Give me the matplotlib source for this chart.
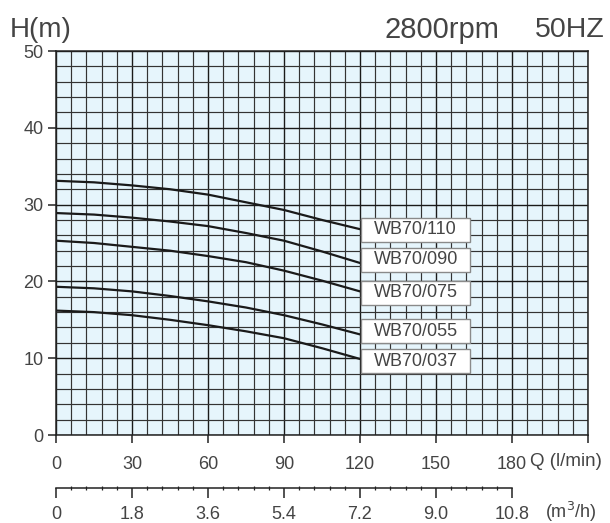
import matplotlib
matplotlib.use("Agg")
import matplotlib.pyplot as plt
from matplotlib.patches import Rectangle
from matplotlib.ticker import MultipleLocator, FixedLocator

plt.rcParams["font.family"] = ["Liberation Sans", "DejaVu Sans"]

# Données
q_lmin = [0, 15, 30, 45, 60, 75, 90, 105, 120]
models = ["WB70/110", "WB70/090", "WB70/075", "WB70/055", "WB70/037"]
h_110 = [33.1, 32.9, 32.5, 32.0, 31.3, 30.3, 29.3, 28.0, 26.8]
h_090 = [28.9, 28.7, 28.3, 27.8, 27.2, 26.3, 25.3, 23.9, 22.4]
h_075 = [25.3, 25.0, 24.5, 24.0, 23.3, 22.5, 21.4, 20.1, 18.7]
h_055 = [19.3, 19.1, 18.7, 18.1, 17.4, 16.6, 15.6, 14.4, 13.1]
h_037 = [16.2, 16.0, 15.6, 15.0, 14.3, 13.5, 12.6, 11.3, 9.9]
heads = [h_110, h_090, h_075, h_055, h_037]
label_y = [26.7, 22.8, 18.5, 13.5, 9.6]

q_ticks = [0, 30, 60, 90, 120, 150, 180]
m3h_ticks = [0, 1.8, 3.6, 5.4, 7.2, 9.0, 10.8]
m3h_labels = ["0", "1.8", "3.6", "5.4", "7.2", "9.0", "10.8"]
h_ticks = [0, 10, 20, 30, 40, 50]

TXT = "#444444"
INK = "#222222"

fig = plt.figure(figsize=(6.10, 5.23), dpi=100)
ax = fig.add_axes([56 / 610, 1 - 435 / 523, 532 / 610, 384 / 523])
ax.set_facecolor("#e6f5fc")
ax.set_xlim(0, 210)
ax.set_ylim(0, 50)

# Grille
ax.xaxis.set_minor_locator(MultipleLocator(6))
ax.yaxis.set_minor_locator(MultipleLocator(2))
ax.grid(which="minor", color="#333333", lw=0.85)
ax.grid(which="major", color="#1a1a1a", lw=1.0)
ax.set_axisbelow(True)
ax.tick_params(which="minor", length=0)

for s in ax.spines.values():
    s.set_color(INK)
    s.set_linewidth(1.1)

ax.xaxis.set_major_locator(FixedLocator(q_ticks + [210]))
ax.set_xticklabels([str(t) for t in q_ticks] + [""])
ax.yaxis.set_major_locator(FixedLocator(h_ticks))
ax.tick_params(which="major", direction="out", length=6, width=1.1,
               color=INK, labelsize=13, labelcolor=TXT)
ax.tick_params(axis="x", pad=9)
ax.tick_params(axis="y", pad=3)

# Courbes
for name, h, ly in zip(models, heads, label_y):
    ax.plot(q_lmin, h, color="#1a1a1a", lw=1.6, solid_capstyle="round")
    ax.add_patch(Rectangle((120.5, ly - 1.55), 43, 3.1, facecolor="white",
                           edgecolor="#8a8a8a", lw=1.0, zorder=5))
    ax.text(142, ly, name, ha="center", va="center", fontsize=13,
            color=TXT, zorder=6)

# Axe secondaire m3/h
ax2 = fig.add_axes([56 / 610, 1 - 488 / 523, 532 / 610, 0.0001])
ax2.set_xlim(0, 12.6)
ax2.patch.set_visible(False)
for k in ["top", "left", "right"]:
    ax2.spines[k].set_visible(False)
ax2.spines["bottom"].set_bounds(0, 10.8)
ax2.spines["bottom"].set_color(INK)
ax2.spines["bottom"].set_linewidth(1.1)
ax2.set_yticks([])
ax2.xaxis.set_major_locator(FixedLocator(m3h_ticks))
ax2.set_xticklabels(m3h_labels)
ax2.xaxis.set_minor_locator(FixedLocator([i * 0.36 for i in range(31)]))
ax2.tick_params(which="major", direction="out", length=7, width=1.1,
                color=INK, labelsize=13, labelcolor=TXT, pad=6)
ax2.tick_params(which="minor", direction="inout", length=3.5, width=0.9,
                color=INK)

# Textes
fig.text(10 / 610, 1 - 30 / 523, "H(m)", fontsize=20, color=TXT, va="center")
fig.text(385 / 610, 1 - 30 / 523, "2800rpm", fontsize=21, color=TXT, va="center")
fig.text(535 / 610, 1 - 30 / 523, "50HZ", fontsize=20.5, color=TXT, va="center")
fig.text(530 / 610, 1 - 462 / 523, "Q (l/min)", fontsize=13.5, color=TXT, va="center")
fig.text(545 / 610, 1 - 512 / 523, "(m$^3$/h)", fontsize=13, color=TXT, va="center")

fig.savefig("out.png", dpi=100)
